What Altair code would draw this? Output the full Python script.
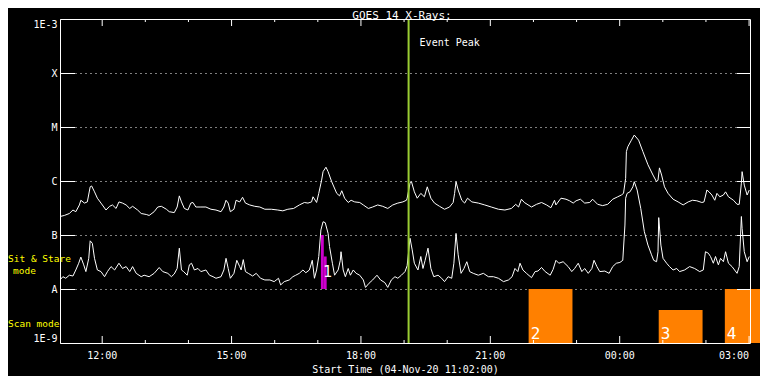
import altair as alt
import pandas as pd

FONT = "DejaVu Sans Mono"

# ---------------- data ----------------
long_times = ["11:02","11:08","11:15","11:20","11:24","11:29","11:31","11:36","11:40","11:44","11:46","11:50","11:54","11:59",
              "12:06","12:11","12:15","12:20","12:24","12:29","12:34","12:39","12:43","12:50","12:55","13:02","13:06","13:13",
              "13:18","13:23","13:30","13:34","13:41","13:45","13:48","13:51","13:55","14:00","14:04","14:07","14:11","14:18",
              "14:25","14:32","14:39","14:46","14:50","14:53","14:56","14:59","15:04","15:07","15:12","15:16","15:20","15:26",
              "15:33","15:40","15:47","15:56","16:05","16:12","16:19","16:27","16:35","16:42","16:47","16:52","16:54","16:59",
              "17:02","17:06","17:08","17:12","17:15","17:20","17:27","17:31","17:34","17:38","17:43","17:47","17:52","17:59",
              "18:04","18:11","18:17","18:24","18:31","18:38","18:45","18:52","18:59","19:04","19:05","19:09","19:11","19:15",
              "19:19","19:24","19:29","19:33","19:38","19:43","19:50","19:57","20:04","20:09","20:11","20:13","20:16","20:21",
              "20:25","20:29","20:35","20:44","20:53","21:02","21:12","21:21","21:30","21:36","21:40","21:44","21:48","21:58",
              "22:05","22:12","22:19","22:25","22:30","22:32","22:39","22:46","22:51","22:56","23:00","23:06","23:12","23:19",
              "23:23","23:30","23:37","23:44","23:51","23:58","00:03","00:06","00:09","00:10","00:12","00:17","00:21","00:27",
              "00:33","00:40","00:47","00:52","00:54","00:56","00:59","01:03","01:08","01:15","01:22","01:29","01:36","01:42",
              "01:48","01:55","01:58","02:02","02:05","02:09","02:13","02:16","02:20","02:25","02:28","02:32","02:39","02:44",
              "02:47","02:50","02:51","02:54","02:58","03:01"]
long_flux = [2.2e-7,2.3e-7,2.5e-7,2.9e-7,2.7e-7,3.6e-7,4.4e-7,3.9e-7,4.1e-7,7.8e-7,8.1e-7,6.3e-7,4.8e-7,3.9e-7,
             2.9e-7,3.4e-7,3.6e-7,3.1e-7,4.1e-7,3.9e-7,3.6e-7,3.1e-7,3.4e-7,2.9e-7,2.5e-7,2.4e-7,2.3e-7,2.7e-7,
             3.3e-7,3.4e-7,3.0e-7,2.7e-7,2.6e-7,3.3e-7,5.3e-7,4.1e-7,3.1e-7,2.9e-7,3.9e-7,4.0e-7,3.3e-7,3.3e-7,
             3.3e-7,3.0e-7,2.9e-7,2.7e-7,3.3e-7,4.4e-7,3.9e-7,2.7e-7,3.0e-7,4.4e-7,4.1e-7,5.0e-7,3.9e-7,3.6e-7,
             3.4e-7,3.3e-7,3.0e-7,3.0e-7,2.9e-7,2.8e-7,3.0e-7,3.1e-7,3.6e-7,4.0e-7,3.9e-7,4.1e-7,5.1e-7,4.0e-7,
             5.9e-7,1.04e-6,1.49e-6,1.8e-6,1.49e-6,9.7e-7,5.9e-7,5.3e-7,6.6e-7,4.8e-7,4.0e-7,4.4e-7,4.1e-7,4.0e-7,
             3.6e-7,3.1e-7,3.3e-7,3.6e-7,3.4e-7,3.1e-7,3.6e-7,3.9e-7,4.1e-7,4.4e-7,4.8e-7,9.1e-7,9.7e-7,6.3e-7,
             4.8e-7,5.9e-7,5.1e-7,7.8e-7,4.8e-7,3.9e-7,3.4e-7,3.0e-7,3.3e-7,4.0e-7,5.9e-7,9.7e-7,6.8e-7,4.4e-7,
             3.9e-7,4.8e-7,4.1e-7,3.9e-7,3.6e-7,3.3e-7,3.0e-7,2.9e-7,3.1e-7,3.7e-7,3.3e-7,4.6e-7,4.0e-7,3.3e-7,
             3.7e-7,4.0e-7,3.6e-7,3.2e-7,4.4e-7,3.6e-7,4.8e-7,4.6e-7,4.3e-7,3.9e-7,4.3e-7,4.6e-7,3.9e-7,4.0e-7,
             4.6e-7,3.7e-7,3.5e-7,3.7e-7,4.6e-7,5.1e-7,5.5e-7,5.9e-7,1.12e-6,3.5e-6,4.3e-6,5.7e-6,7.1e-6,5.7e-6,
             3.5e-6,2.0e-6,1.29e-6,9.7e-7,1.04e-6,1.75e-6,1.29e-6,7.8e-7,5.9e-7,4.6e-7,4.1e-7,3.6e-7,4.1e-7,4.4e-7,
             4.3e-7,4.0e-7,4.1e-7,6.8e-7,6.3e-7,5.5e-7,4.4e-7,5.9e-7,5.1e-7,5.5e-7,6.3e-7,5.1e-7,4.4e-7,3.7e-7,
             3.7e-7,9.1e-7,1.49e-6,8.4e-7,5.5e-7,6.8e-7]

short_times = ["11:02","11:06","11:10","11:15","11:20","11:24","11:28","11:31","11:35","11:38","11:42","11:44","11:47","11:50",
               "11:54","11:59","12:04","12:08","12:13","12:18","12:24","12:29","12:34","12:39","12:43","12:48","12:55","12:59",
               "13:06","13:13","13:20","13:25","13:32","13:37","13:41","13:45","13:48","13:51","13:54","13:59","14:02","14:05",
               "14:09","14:14","14:18","14:25","14:30","14:35","14:39","14:46","14:50","14:53","14:56","14:59","15:04","15:08",
               "15:12","15:14","15:17","15:20","15:24","15:30","15:35","15:41","15:47","15:54","16:00","16:06","16:09","16:14",
               "16:21","16:26","16:30","16:35","16:40","16:44","16:49","16:53","16:56","16:59","17:02","17:05","17:08","17:11",
               "17:15","17:17","17:21","17:24","17:29","17:32","17:33","17:36","17:39","17:43","17:46","17:50","17:54","17:59",
               "18:04","18:07","18:12","18:17","18:23","18:28","18:34","18:38","18:43","18:48","18:52","18:57","19:02","19:05",
               "19:09","19:12","19:15","19:20","19:24","19:27","19:30","19:34","19:38","19:42","19:48","19:53","19:57","20:02",
               "20:07","20:10","20:13","20:16","20:20","20:24","20:28","20:32","20:37","20:44","20:51","20:58","21:05","21:12",
               "21:19","21:26","21:31","21:35","21:39","21:42","21:46","21:51","21:58","22:03","22:07","22:12","22:17","22:24",
               "22:28","22:32","22:36","22:42","22:49","22:54","22:58","23:03","23:08","23:12","23:17","23:22","23:25","23:29",
               "23:33","23:40","23:46","23:51","23:56","00:01","00:05","00:08","00:09","00:11","00:15","00:19","00:21","00:25",
               "00:30","00:35","00:40","00:45","00:48","00:52","00:54","00:55","00:58","01:01","01:06","01:10","01:15","01:20",
               "01:24","01:31","01:38","01:45","01:52","01:57","02:00","02:04","02:07","02:11","02:14","02:18","02:21","02:25",
               "02:28","02:32","02:37","02:44","02:47","02:50","02:51","02:54","02:58","03:01"]
short_flux = [1.47e-8,1.69e-8,1.58e-8,1.8e-8,1.74e-8,2.25e-8,3.0e-8,3.9e-8,2.8e-8,2.1e-8,3.7e-8,7.8e-8,7.0e-8,3.7e-8,
              2.25e-8,2.1e-8,1.69e-8,2.1e-8,2.6e-8,2.25e-8,3.0e-8,2.4e-8,2.6e-8,2.1e-8,2.6e-8,1.95e-8,1.69e-8,1.8e-8,
              1.69e-8,1.95e-8,2.5e-8,2.1e-8,1.95e-8,1.69e-8,1.9e-8,2.4e-8,5.7e-8,2.25e-8,2.1e-8,1.8e-8,2.8e-8,3.0e-8,
              2.25e-8,2.4e-8,2.1e-8,2.25e-8,1.8e-8,1.69e-8,1.58e-8,1.69e-8,2.25e-8,3.7e-8,2.4e-8,1.58e-8,1.95e-8,3.4e-8,
              2.6e-8,2.25e-8,3.5e-8,2.1e-8,1.95e-8,1.74e-8,1.95e-8,1.58e-8,1.47e-8,1.47e-8,1.37e-8,1.58e-8,1.19e-8,1.37e-8,
              1.47e-8,1.69e-8,1.8e-8,1.95e-8,2.25e-8,2.0e-8,2.25e-8,3.4e-8,1.58e-8,2.25e-8,4.0e-8,1.24e-7,1.76e-7,1.69e-7,
              1.07e-7,6.1e-8,3.0e-8,1.8e-8,2.25e-8,3.4e-8,4.9e-8,2.25e-8,1.69e-8,2.4e-8,1.8e-8,2.25e-8,1.95e-8,1.8e-8,
              1.47e-8,1.07e-8,1.28e-8,1.47e-8,1.8e-8,1.47e-8,1.31e-8,1.07e-8,1.47e-8,1.69e-8,1.58e-8,1.8e-8,2.1e-8,2.7e-8,
              8.7e-8,5.3e-8,3.0e-8,2.25e-8,4.0e-8,2.4e-8,3.4e-8,5.7e-8,2.4e-8,1.69e-8,1.8e-8,1.58e-8,1.37e-8,1.69e-8,
              1.58e-8,3.0e-8,1.07e-7,4.3e-8,1.95e-8,2.4e-8,3.2e-8,2.1e-8,1.95e-8,1.8e-8,1.95e-8,1.69e-8,1.69e-8,1.58e-8,
              1.37e-8,1.47e-8,1.69e-8,2.4e-8,2.1e-8,3.0e-8,2.25e-8,1.95e-8,1.62e-8,2.1e-8,2.15e-8,2.5e-8,2.1e-8,1.8e-8,
              2.3e-8,3.4e-8,3.0e-8,3.2e-8,2.6e-8,2.1e-8,2.4e-8,3.0e-8,2.1e-8,2.4e-8,1.95e-8,2.4e-8,3.4e-8,2.6e-8,
              2.1e-8,2.15e-8,1.95e-8,2.6e-8,3.0e-8,3.1e-8,3.4e-8,1.53e-7,4.8e-7,5.9e-7,6.3e-7,7.8e-7,9.7e-7,6.8e-7,
              3.1e-7,1.15e-7,6.5e-8,4.3e-8,3.4e-8,3.2e-8,4.9e-8,2.1e-7,6.5e-8,3.7e-8,3.0e-8,2.6e-8,2.25e-8,2.4e-8,
              2.1e-8,2.25e-8,2.6e-8,2.4e-8,2.1e-8,2.25e-8,4.9e-8,4.6e-8,4.0e-8,3.0e-8,4.0e-8,2.8e-8,3.7e-8,3.2e-8,
              4.9e-8,3.0e-8,2.6e-8,1.95e-8,2.6e-8,2.2e-7,1.33e-7,4.9e-8,3.2e-8,4.0e-8]

# Sit & Stare (magenta) intervals
stare_start = ["17:05", "17:09"]
stare_end = ["17:09", "17:13"]
stare_top = [1.0e-7, 4.0e-8]
stare_base = 1.0e-8
stare_label = ["1"]
stare_label_time = ["17:05"]

# Scan mode (orange) intervals
scan_start = ["21:54", "00:55", "02:27"]
scan_end = ["22:55", "01:56", "03:27"]
scan_top = [1.0e-8, 4.1e-9, 1.0e-8]
scan_base = 1.0e-9
scan_label = ["2", "3", "4"]

event_peak = "19:07"

class_levels = [1e-9, 1e-8, 1e-7, 1e-6, 1e-5, 1e-4, 1e-3]
class_names = ["1E-9", "A", "B", "C", "M", "X", "1E-3"]
major_hours = ["12:00", "15:00", "18:00", "21:00", "00:00", "03:00"]
minor_hours = ["13:00", "14:00", "16:00", "17:00", "19:00", "20:00", "22:00", "23:00", "01:00", "02:00"]


def stamp(hhmm):
    day = 4 if int(hhmm[:2]) >= 11 else 5
    return f"2020-11-{day:02d}T{hhmm}:00"


def dt(hhmm):
    h, m = int(hhmm[:2]), int(hhmm[3:])
    day = 4 if h >= 11 else 5
    return alt.DateTime(year=2020, month=11, date=day, hours=h, minutes=m)


W, H = 690, 324
xscale = alt.Scale(domain=[dt("11:02"), dt("03:02")])
yscale = alt.Scale(type="log", domain=[1e-9, 1e-3])

curves = pd.DataFrame({
    "t": [stamp(t) for t in long_times] + [stamp(t) for t in short_times],
    "flux": long_flux + short_flux,
    "channel": ["1.0-8.0 A"] * len(long_times) + ["0.5-4.0 A"] * len(short_times),
})
stare = pd.DataFrame({"start": [stamp(t) for t in stare_start], "end": [stamp(t) for t in stare_end],
                      "top": stare_top, "base": [stare_base] * len(stare_top)})
scan = pd.DataFrame({"start": [stamp(t) for t in scan_start], "end": [stamp(t) for t in scan_end],
                     "top": scan_top, "base": [scan_base] * len(scan_top), "label": scan_label})
stare_lab = pd.DataFrame({"start": [stamp(t) for t in stare_label_time], "label": stare_label})
event = pd.DataFrame({"start": [stamp(event_peak)], "label": ["Event Peak"]})
levels = pd.DataFrame({"level": class_levels[1:-1]})
major = pd.DataFrame({"start": [stamp(t) for t in major_hours]})
minor = pd.DataFrame({"start": [stamp(t) for t in minor_hours]})
one = pd.DataFrame({"a": [0]})

label_expr = "[" + ",".join(f"'{n}'" for n in class_names) + "][round(log(datum.value)/LN10)+9]"

xaxis = alt.Axis(values=[dt(t) for t in major_hours], format="%H:%M", ticks=False, domain=False, grid=False,
                 labelColor="white", labelFont=FONT, labelFontSize=10, labelPadding=7, labelFlush=5,
                 title="Start Time (04-Nov-20 11:02:00)", titleColor="white", titleFont=FONT,
                 titleFontSize=10, titleFontWeight="normal", titlePadding=4)
yaxis = alt.Axis(values=class_levels, labelExpr=label_expr, ticks=False, domain=False, grid=True,
                 gridColor="white", gridDash=[1, 4], gridWidth=1, gridOpacity=1,
                 labelColor="white", labelFont=FONT, labelFontSize=10, labelPadding=3, labelFlush=True,
                 title=None)

X = alt.X("start:T", scale=xscale, axis=xaxis)

bars_scan = alt.Chart(scan).mark_rect(color="#ff8000", clip=False).encode(
    x=X, x2="end:T", y=alt.Y("top:Q", scale=yscale, axis=yaxis), y2="base:Q")
bars_stare = alt.Chart(stare).mark_rect(color="#cc00cc").encode(
    x=X, x2="end:T", y=alt.Y("top:Q", scale=yscale, axis=yaxis), y2="base:Q")
lines = alt.Chart(curves).mark_line(color="white", strokeWidth=1, clip=True).encode(
    x=alt.X("t:T", scale=xscale, axis=xaxis),
    y=alt.Y("flux:Q", scale=yscale, axis=yaxis),
    detail="channel:N")
peak = alt.Chart(event).mark_rule(color="#9acd32", strokeWidth=2).encode(x=X)
peak_text = alt.Chart(event).mark_text(color="white", font=FONT, fontSize=10, align="left",
                                       baseline="middle", dx=11).encode(
    x=X, y=alt.value(24), text="label:N")

ytick_l = alt.Chart(levels).mark_rule(color="white", yOffset=0.5).encode(
    y=alt.Y("level:Q", scale=yscale, axis=yaxis), x=alt.value(0), x2=alt.value(15))
ytick_r = alt.Chart(levels).mark_rule(color="white", yOffset=0.5).encode(
    y=alt.Y("level:Q", scale=yscale, axis=yaxis), x=alt.value(677), x2=alt.value(690))
xmaj_b = alt.Chart(major).mark_rule(color="white", xOffset=0.5).encode(
    x=X, y=alt.value(H), y2=alt.value(H - 7))
xmaj_t = alt.Chart(major).mark_rule(color="white", xOffset=0.5).encode(
    x=X, y=alt.value(0), y2=alt.value(7))
xmin_b = alt.Chart(minor).mark_rule(color="white", xOffset=0.5).encode(
    x=X, y=alt.value(H), y2=alt.value(H - 3))
xmin_t = alt.Chart(minor).mark_rule(color="white", xOffset=0.5).encode(
    x=X, y=alt.value(0), y2=alt.value(3))
frame = alt.Chart(one).mark_rect(filled=False, stroke="white", strokeWidth=1).encode(
    x=alt.value(0.5), x2=alt.value(W + 0.5), y=alt.value(0.5), y2=alt.value(H + 0.5))

scan_text = alt.Chart(scan).mark_text(color="white", font=FONT, fontSize=16, align="left",
                                      baseline="middle", dx=2, clip=False).encode(
    x=X, y=alt.value(315), text="label:N")
stare_text = alt.Chart(stare_lab).mark_text(color="white", font=FONT, fontSize=15, align="left",
                                            baseline="middle", dx=2).encode(
    x=X, y=alt.value(253), text="label:N")

sit1 = alt.Chart(one).mark_text(text="Sit & Stare", color="yellow", font=FONT, fontSize=9.5,
                                align="left", baseline="middle").encode(x=alt.value(-52), y=alt.value(240))
sit2 = alt.Chart(one).mark_text(text="mode", color="yellow", font=FONT, fontSize=9.5,
                                align="left", baseline="middle").encode(x=alt.value(-47), y=alt.value(252))
scanlab = alt.Chart(one).mark_text(text="Scan mode", color="yellow", font=FONT, fontSize=9.5,
                                   align="left", baseline="middle").encode(x=alt.value(-52), y=alt.value(305))
title = alt.Chart(one).mark_text(text="GOES 14 X-Rays:", color="white", font=FONT, fontSize=11,
                                 align="center", baseline="middle").encode(x=alt.value(342), y=alt.value(-3.5))

chart = alt.layer(
    lines, bars_scan, bars_stare, peak, ytick_l, ytick_r, xmaj_b, xmaj_t, xmin_b, xmin_t, frame,
    scan_text, stare_text, peak_text, sit1, sit2, scanlab, title,
).properties(
    width=W, height=H, background="black",
    padding={"left": 52, "top": 11, "right": 10, "bottom": 33},
    autosize=alt.AutoSizeParams(type="none"),
).configure_view(stroke=None)

chart.save("out.html", embed_options={"renderer": "svg", "actions": False})
